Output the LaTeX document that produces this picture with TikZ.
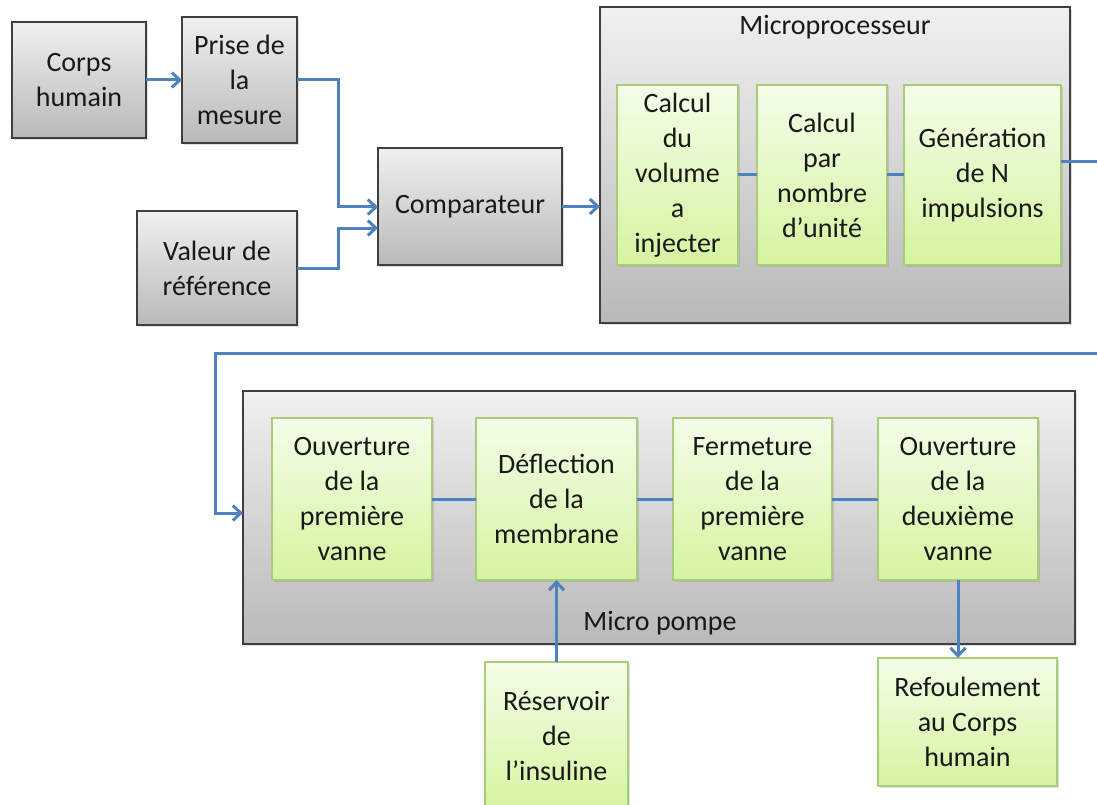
\documentclass[tikz,border=0pt]{standalone}
\usepackage{fontspec}
\setmainfont{Carlito}
\usetikzlibrary{arrows.meta,shadows,calc}
\definecolor{conn}{HTML}{4F81BD}
\definecolor{gborder}{HTML}{3F3F3F}
\definecolor{grtop}{HTML}{F0F0F0}
\definecolor{grbot}{HTML}{B9B9B9}
\definecolor{gntop}{HTML}{F4FDE8}
\definecolor{gnbot}{HTML}{D5F4A0}
\definecolor{gnborder}{HTML}{A9CC7A}
\tikzset{
  base/.style={rectangle, align=center, inner sep=0pt, outer sep=0pt,
    font=\fontsize{28}{35}\selectfont, text=black!90,
    drop shadow={shadow xshift=2pt, shadow yshift=-2pt, opacity=0.25}},
  graybox/.style={base, draw=gborder, line width=1.3pt,
    top color=grtop, bottom color=grbot},
  greenbox/.style={base, draw=gnborder, line width=1.2pt,
    top color=gntop, bottom color=gnbot},
  lbl/.style={font=\fontsize{28}{35}\selectfont, text=black!90},
  conline/.style={draw=conn, line width=3pt},
  arr/.style={conline, -{Straight Barb[length=8pt,width=15pt]}},
  sz/.style 2 args={minimum width=#1, minimum height=#2}
}
\begin{document}
\begin{tikzpicture}[x=1pt,y=-1pt]
\clip (0,0) rectangle (1097,805);
\fill[white] (0,0) rectangle (1097,805);
% top row
\node[graybox, sz={134}{116}] (corps) at (79,80) {Corps\\humain};
\node[graybox, sz={115}{126}] (prise) at (239.5,80) {Prise de\\la\\mesure};
\node[graybox, sz={160}{114}] (valeur) at (217,268) {Valeur de\\référence};
\node[graybox, sz={184}{117}] (comp) at (470,206.5) {Comparateur};
% microprocessor
\node[graybox, sz={470}{316}] (micro) at (835,165) {};
\node[lbl] (microlbl) at (835,27) {Microprocesseur};
\node[greenbox, sz={121}{180}] (calc1) at (677.5,175) {Calcul\\du\\volume\\a\\injecter};
\node[greenbox, sz={130}{180}] (calc2) at (822,175) {Calcul\\par\\nombre\\d’unité};
\node[greenbox, sz={157}{180}] (gen) at (982.5,175) {Génération\\de N\\impulsions};
% micro pompe
\node[graybox, sz={832}{253}] (pompe) at (659,517.5) {};
\node[lbl] (pompelbl) at (660,623) {Micro pompe};
\node[greenbox, sz={160}{162}] (ouv1) at (352,499) {Ouverture\\de la\\première\\vanne};
\node[greenbox, sz={161}{162}] (defl) at (556.5,499) {Déflection\\de la\\membrane};
\node[greenbox, sz={159}{162}] (ferm) at (752.5,499) {Fermeture\\de la\\première\\vanne};
\node[greenbox, sz={160}{162}] (ouv2) at (958,499) {Ouverture\\de la\\deuxième\\vanne};
\node[greenbox, sz={179}{128}] (refoul) at (967.5,722) {Refoulement\\au Corps\\humain};
\node[greenbox, sz={143}{148}] (reserv) at (556.5,736) {Réservoir\\de\\l’insuline};
% connectors top
\draw[arr] (corps.east) -- (prise.west |- corps.east);
\coordinate (j1) at (338,0);
\draw[arr] (prise.east) -| ($(j1)+(0,207)$) -- ($(comp.west)+(0,0.5)$);
\draw[arr] (valeur.east) -| ($(j1)+(0,228)$) -- (comp.west |- 0,228);
\draw[arr] (comp.east) -- (micro.west |- comp.east);
\draw[conline] (calc1.east) -- (calc2.west);
\draw[conline] (calc2.east) -- (calc2.east -| gen.west);
\coordinate (genout) at ($(gen.east)+(0,-13)$);
\coordinate (rturn) at (1115,353);
\coordinate (lturn) at (215,353);
\coordinate (pin) at (243,513);
\draw[arr] (genout) -| (rturn) -- (lturn) |- (pin);
% connectors bottom
\draw[conline] (ouv1.east) -- (defl.west);
\draw[conline] (defl.east) -- (ferm.west);
\draw[conline] (ferm.east) -- (ouv2.west);
\draw[arr] (ouv2.south) -- (ouv2.south |- refoul.north);
\draw[arr] (reserv.north) -- (defl.south);
\end{tikzpicture}
\end{document}
